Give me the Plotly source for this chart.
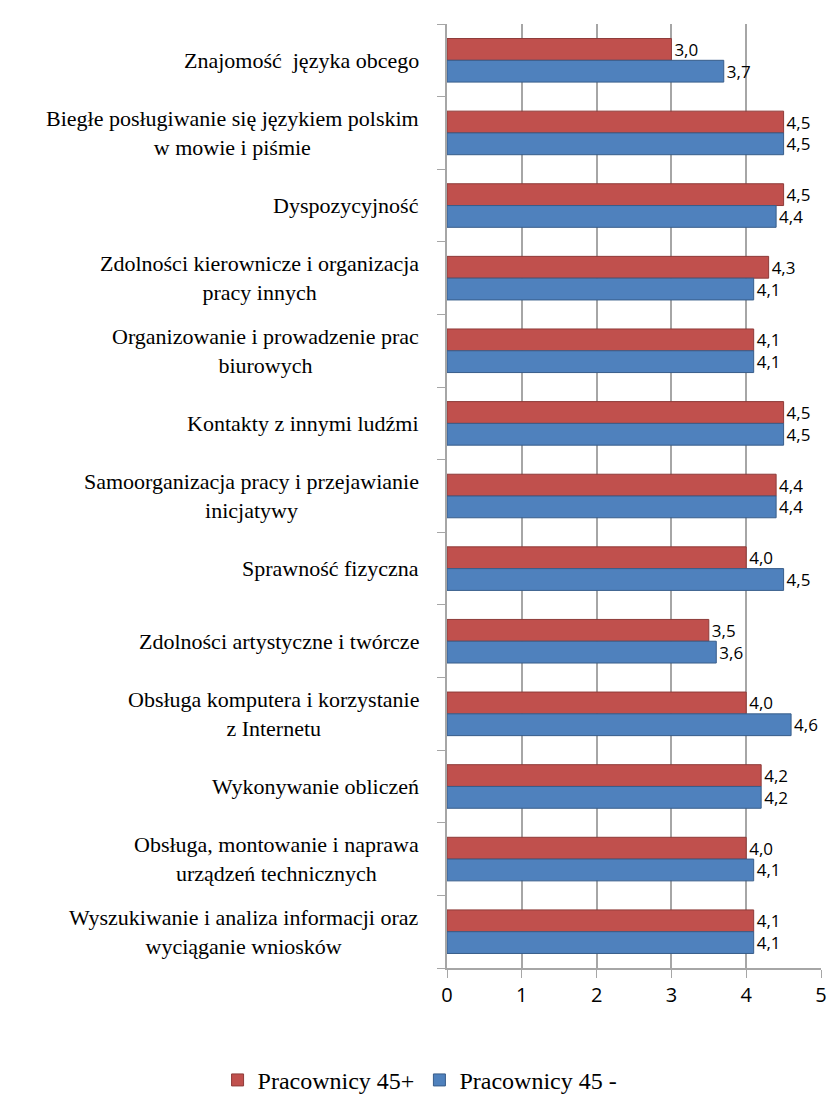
import plotly.graph_objects as go

categories = [
    "Znajomość  języka obcego",
    "Biegłe posługiwanie się językiem polskim<br>w mowie i piśmie",
    "Dyspozycyjność",
    "Zdolności kierownicze i organizacja<br>pracy innych",
    "Organizowanie i prowadzenie prac<br>biurowych",
    "Kontakty z innymi ludźmi",
    "Samoorganizacja pracy i przejawianie<br>inicjatywy",
    "Sprawność fizyczna",
    "Zdolności artystyczne i twórcze",
    "Obsługa komputera i korzystanie<br>z Internetu",
    "Wykonywanie obliczeń",
    "Obsługa, montowanie i naprawa<br>urządzeń technicznych",
    "Wyszukiwanie i analiza informacji oraz<br>wyciąganie wniosków",
]
pracownicy_45_plus = [3.0, 4.5, 4.5, 4.3, 4.1, 4.5, 4.4, 4.0, 3.5, 4.0, 4.2, 4.0, 4.1]
pracownicy_45_minus = [3.7, 4.5, 4.4, 4.1, 4.1, 4.5, 4.4, 4.5, 3.6, 4.6, 4.2, 4.1, 4.1]
x_ticks = [0, 1, 2, 3, 4, 5]

ids = list(range(len(categories)))

def fmt(v):
    return f"{v:.1f}".replace(".", ",")

label_font = dict(family="Open Sans, DejaVu Sans, sans-serif", size=17, color="#000")

fig = go.Figure()
fig.add_trace(go.Bar(
    y=ids, x=pracownicy_45_plus, orientation="h", name="Pracownicy 45+",
    marker=dict(color="#C0504D", line=dict(color="#8E3B39", width=1)),
    text=[fmt(v) for v in pracownicy_45_plus], textposition="outside",
    textfont=label_font, cliponaxis=False, constraintext="none",
))
fig.add_trace(go.Bar(
    y=ids, x=pracownicy_45_minus, orientation="h", name="Pracownicy 45 -",
    marker=dict(color="#4F81BD", line=dict(color="#385D8A", width=1)),
    text=[fmt(v) for v in pracownicy_45_minus], textposition="outside",
    textfont=label_font, cliponaxis=False, constraintext="none",
))

for i, c in enumerate(categories):
    fig.add_annotation(
        x=0, xref="paper", y=i, yref="y", text=c, showarrow=False,
        xanchor="right", yanchor="middle", align="center", xshift=-26,
        font=dict(family="Liberation Serif, Times New Roman, serif", size=22, color="#000"),
    )

fig.update_layout(
    width=840, height=1108,
    margin=dict(l=439, r=27, t=16, b=148, autoexpand=False),
    paper_bgcolor="white", plot_bgcolor="white",
    barmode="group", bargap=0.4, bargroupgap=0.0,
    showlegend=True,
    legend=dict(
        orientation="h", xref="paper", yref="paper",
        x=-0.072, xanchor="center", y=-0.119, yanchor="middle",
        font=dict(family="Liberation Serif, Times New Roman, serif", size=24, color="#000"),
        traceorder="normal", itemwidth=30,
    ),
    xaxis=dict(
        range=[0, 5], tickvals=x_ticks, ticktext=[str(t) for t in x_ticks],
        showgrid=True, gridcolor="#A6A6A6", gridwidth=1.5,
        showline=True, linecolor="#A6A6A6", linewidth=1.5,
        ticks="outside", ticklen=8, tickcolor="#A6A6A6",
        tickfont=dict(family="Open Sans, DejaVu Sans, sans-serif", size=20, color="#000"),
        zeroline=False, automargin=False,
    ),
    yaxis=dict(
        range=[len(categories) - 0.5, -0.5],
        tickvals=[i - 0.5 for i in ids] + [len(ids) - 0.5],
        showticklabels=False, showgrid=False, zeroline=False,
        showline=True, linecolor="#A6A6A6", linewidth=1.5,
        ticks="outside", ticklen=8, tickcolor="#A6A6A6",
        automargin=False,
    ),
)

fig.write_html("out.html")
